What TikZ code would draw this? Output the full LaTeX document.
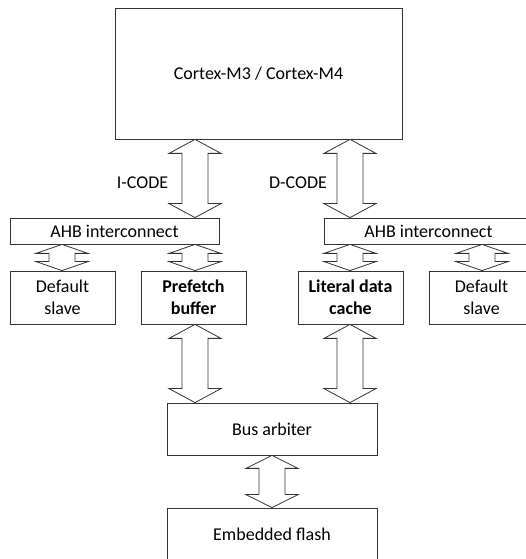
\documentclass[tikz,border=0pt]{standalone}
\usepackage{fontspec}
\setmainfont{Carlito}
\usetikzlibrary{calc}
\tikzset{
  box/.style={draw=black!80, line width=0.8pt, minimum width=#1, inner sep=0pt, align=center, font=\fontsize{18}{22}\selectfont},
  box/.default=105pt,
  barrow/.style={draw=black!80, line width=0.8pt, fill=white, line join=miter},
  lbl/.style={font=\fontsize{18}{22}\selectfont, inner sep=0pt}
}
\newcommand{\dbarrow}[4]{%
  \draw[barrow] let \p1=(#1), \p2=(#2) in
    (#3,\y1) -- (#3+26pt,\y1-#4) -- (#3+13pt,\y1-#4) -- (#3+13pt,\y2+#4)
    -- (#3+26pt,\y2+#4) -- (#3,\y2) -- (#3-26pt,\y2+#4) -- (#3-13pt,\y2+#4)
    -- (#3-13pt,\y1-#4) -- (#3-26pt,\y1-#4) -- cycle;}
\begin{document}
\begin{tikzpicture}[x=1pt,y=1pt]
\useasboundingbox (0,0) rectangle (526,559);
\clip (0,0) rectangle (526,559);
\node[box=287pt, minimum height=131pt] (cpu) at (258.5,485.5) {Cortex-M3 / Cortex-M4};
\node[box=209pt, minimum height=26pt] (ahbL) at (114.5,328) {AHB interconnect};
\node[box=209pt, minimum height=26pt] (ahbR) at (428.5,328) {AHB interconnect};
\node[box, minimum height=53pt] (dsL) at (62.5,261.5) {Default\\slave};
\node[box, minimum height=53pt] (pf) at (193.5,261.5) {\textbf{Prefetch}\\\textbf{buffer}};
\node[box, minimum height=53pt] (ld) at (350.5,261.5) {\textbf{Literal data}\\\textbf{cache}};
\node[box, minimum height=53pt] (dsR) at (481.5,261.5) {Default\\slave};
\node[box=210pt, minimum height=52pt] (bus) at (272,130) {Bus arbiter};
\node[box=210pt, minimum height=52pt] (flash) at (272,25) {Embedded flash};
\node[lbl] (icode) at (142.5,376) {I-CODE};
\node[lbl] (dcode) at (298,376) {D-CODE};
\dbarrow{cpu.south}{ahbL.north}{195pt}{14pt}
\dbarrow{cpu.south}{ahbR.north}{350pt}{14pt}
\dbarrow{ahbL.south}{dsL.north}{62pt}{9pt}
\dbarrow{ahbL.south}{pf.north}{195pt}{9pt}
\dbarrow{ahbR.south}{ld.north}{350pt}{9pt}
\dbarrow{ahbR.south}{dsR.north}{482pt}{9pt}
\dbarrow{pf.south}{bus.north}{195pt}{14pt}
\dbarrow{ld.south}{bus.north}{350pt}{14pt}
\dbarrow{bus.south}{flash.north}{272pt}{13pt}
\end{tikzpicture}
\end{document}
